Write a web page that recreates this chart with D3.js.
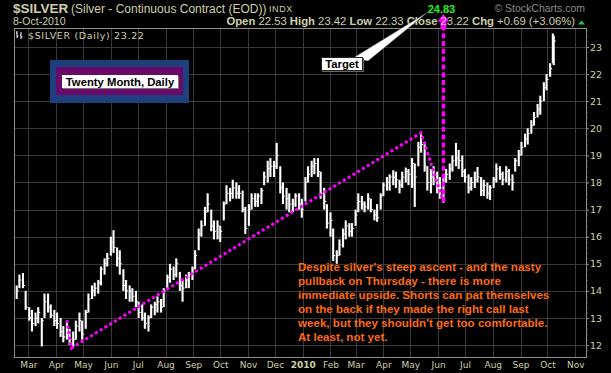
<!DOCTYPE html>
<html>
<head>
<meta charset="utf-8">
<script src="https://cdn.jsdelivr.net/npm/d3@7"></script>
<style>
body { margin: 0; background: #000; }
#chart { width: 611px; height: 373px; }
</style>
</head>
<body>
<div id="chart"></div>
<script>
//Datos (dos barras por semana)
const barDates = ["2009-02-16","2009-02-19","2009-02-23","2009-02-26","2009-03-02","2009-03-05","2009-03-09","2009-03-12","2009-03-16","2009-03-19",
"2009-03-23","2009-03-26","2009-03-30","2009-04-02","2009-04-06","2009-04-09","2009-04-13","2009-04-16","2009-04-20","2009-04-23",
"2009-04-27","2009-04-30","2009-05-04","2009-05-07","2009-05-11","2009-05-14","2009-05-18","2009-05-21","2009-05-25","2009-05-28",
"2009-06-01","2009-06-04","2009-06-08","2009-06-11","2009-06-15","2009-06-18","2009-06-22","2009-06-25","2009-06-29","2009-07-02",
"2009-07-06","2009-07-09","2009-07-13","2009-07-16","2009-07-20","2009-07-23","2009-07-27","2009-07-30","2009-08-03","2009-08-06",
"2009-08-10","2009-08-13","2009-08-17","2009-08-20","2009-08-24","2009-08-27","2009-08-31","2009-09-03","2009-09-07","2009-09-10",
"2009-09-14","2009-09-17","2009-09-21","2009-09-24","2009-09-28","2009-10-01","2009-10-05","2009-10-08","2009-10-12","2009-10-15",
"2009-10-19","2009-10-22","2009-10-26","2009-10-29","2009-11-02","2009-11-05","2009-11-09","2009-11-12","2009-11-16","2009-11-19",
"2009-11-23","2009-11-26","2009-11-30","2009-12-03","2009-12-07","2009-12-10","2009-12-14","2009-12-17","2009-12-21","2009-12-24",
"2009-12-28","2009-12-31","2010-01-04","2010-01-07","2010-01-11","2010-01-14","2010-01-18","2010-01-21","2010-01-25","2010-01-28",
"2010-02-01","2010-02-04","2010-02-08","2010-02-11","2010-02-15","2010-02-18","2010-02-22","2010-02-25","2010-03-01","2010-03-04",
"2010-03-08","2010-03-11","2010-03-15","2010-03-18","2010-03-22","2010-03-25","2010-03-29","2010-04-01","2010-04-05","2010-04-08",
"2010-04-12","2010-04-15","2010-04-19","2010-04-22","2010-04-26","2010-04-29","2010-05-03","2010-05-06","2010-05-10","2010-05-13",
"2010-05-17","2010-05-20","2010-05-24","2010-05-27","2010-05-31","2010-06-03","2010-06-07","2010-06-10","2010-06-14","2010-06-17",
"2010-06-21","2010-06-24","2010-06-28","2010-07-01","2010-07-05","2010-07-08","2010-07-12","2010-07-15","2010-07-19","2010-07-22",
"2010-07-26","2010-07-29","2010-08-02","2010-08-05","2010-08-09","2010-08-12","2010-08-16","2010-08-19","2010-08-23","2010-08-26",
"2010-08-30","2010-09-02","2010-09-06","2010-09-09","2010-09-13","2010-09-16","2010-09-20","2010-09-23","2010-09-27","2010-09-30",
"2010-10-04","2010-10-07","2010-10-08"];

const barHigh = [14.2,14.6,14.66,14.0,13.4,13.3,13.2,13.4,13.0,13.9,
13.9,13.5,13.3,13.2,13.0,12.7,12.9,12.6,12.5,12.9,
13.2,12.9,13.3,13.9,14.2,14.3,14.4,14.9,15.2,15.4,
16.0,16.24,15.6,15.5,14.8,14.4,14.2,14.1,14.0,13.6,
13.5,13.2,13.1,13.5,13.6,13.8,13.7,14.1,14.6,15.0,
14.9,15.2,14.7,14.4,14.6,14.7,14.9,15.5,16.3,16.6,
17.1,17.6,17.0,16.6,16.6,16.4,17.3,17.9,17.8,18.1,
18.0,17.9,17.7,17.1,17.2,17.6,17.6,17.6,17.8,18.4,
18.8,18.9,18.8,19.46,18.6,18.0,17.8,17.6,17.4,17.6,
17.6,17.4,18.2,18.6,18.8,18.9,18.9,18.4,17.8,17.2,
16.9,16.3,15.5,15.9,16.3,16.6,16.5,16.5,17.0,17.6,
17.5,17.3,17.6,17.4,17.0,17.2,17.6,18.0,18.2,18.3,
18.45,18.4,18.1,18.4,18.55,18.5,18.9,18.7,19.5,19.8,
19.5,18.6,18.5,18.6,18.4,18.2,18.3,18.5,18.7,19.0,
19.46,19.2,19.0,18.5,18.3,18.2,18.4,18.57,18.2,18.1,
18.0,17.9,18.2,18.7,18.6,18.4,18.6,18.5,18.3,18.9,
19.2,19.5,19.8,20.0,20.3,20.6,20.9,21.2,21.7,22.0,
22.4,23.5,23.42];

const barLow = [13.7,14.1,14.1,13.3,12.9,12.5,12.7,12.8,11.95,13.0,
13.2,13.0,12.7,12.6,12.3,12.1,12.2,12.0,11.9,12.2,
12.5,12.2,12.6,13.2,13.7,13.8,13.9,14.2,14.6,14.9,
15.3,15.4,14.9,14.6,14.0,13.7,13.6,13.6,13.4,13.0,
12.9,12.6,12.5,13.0,13.1,13.2,13.2,13.4,14.1,14.3,
14.4,14.5,14.0,13.6,14.1,14.1,14.4,14.8,15.5,16.0,
16.4,16.9,16.2,15.9,15.9,15.8,16.6,17.2,17.3,17.4,
17.4,17.4,16.9,16.1,16.4,17.0,17.1,17.1,17.2,17.9,
18.0,18.2,18.2,18.5,17.6,17.2,17.0,16.9,16.9,17.1,
17.0,16.7,17.3,18.0,18.2,18.3,18.2,17.4,17.0,16.3,
16.0,15.1,15.0,15.3,15.6,15.9,16.0,16.0,16.4,16.9,
17.0,16.9,17.0,16.9,16.6,16.55,17.0,17.5,17.7,17.7,
17.9,17.8,17.6,17.8,18.0,17.9,17.8,17.1,18.6,19.1,
18.4,17.7,17.6,17.9,17.6,17.4,17.25,18.0,18.1,18.4,
18.6,18.5,18.2,18.0,17.6,17.7,17.8,18.0,17.5,17.5,
17.4,17.35,17.8,18.0,18.1,17.9,18.0,17.9,17.7,18.4,
18.6,19.0,19.3,19.4,19.8,20.1,20.4,20.5,21.0,21.4,
21.9,22.4,22.33];

const barClose = [14.0,14.4,14.2,13.4,13.0,12.8,13.0,13.2,12.9,13.6,
13.4,13.1,12.9,12.8,12.5,12.3,12.4,12.2,12.2,12.7,
12.9,12.4,13.2,13.7,14.0,14.1,14.3,14.8,15.0,15.2,
15.8,15.6,15.2,15.0,14.2,14.0,14.0,13.8,13.6,13.2,
13.0,12.8,13.0,13.4,13.5,13.6,13.4,14.0,14.5,14.8,
14.6,15.0,14.2,14.1,14.4,14.6,14.8,15.3,16.1,16.4,
16.9,17.2,16.4,16.2,16.4,16.2,17.2,17.6,17.6,17.8,
17.6,17.6,17.0,16.3,17.0,17.4,17.3,17.5,17.7,18.2,
18.5,18.6,18.6,19.0,17.8,17.5,17.4,17.2,17.2,17.5,
17.2,17.0,18.0,18.3,18.6,18.7,18.4,17.6,17.3,16.5,
16.6,15.3,15.3,15.7,16.1,16.4,16.2,16.3,16.8,17.3,
17.2,17.1,17.4,17.0,16.8,16.7,17.5,17.9,18.0,18.2,
18.2,18.1,17.9,18.2,18.4,18.3,18.7,18.2,19.3,19.4,
18.6,18.0,18.2,18.3,17.8,17.8,18.0,18.3,18.5,18.8,
18.9,18.8,18.4,18.2,17.8,18.0,18.1,18.2,17.7,17.9,
17.6,17.8,18.1,18.5,18.3,18.1,18.4,18.1,18.0,18.8,
19.0,19.3,19.6,19.8,20.1,20.4,20.7,21.0,21.5,21.8,
22.2,22.53,23.22];

//Líneas de tendencia (magenta)
const trendDates = ["2009-04-13","2009-04-18","2010-05-13","2010-06-07"];
const trendValues = [12.92, 11.89, 19.83, 17.28];
const targetValue = 24.83;

//Ejes
const yTicks = [12,13,14,15,16,17,18,19,20,21,22,23];
const xDomain = ["2009-02-13","2010-11-13"];
const yDomain = [11.56, 23.70];

const quoteLabels = ["Open","High","Low","Close","Chg"];
const quoteValues = ["22.53","23.42","22.33","23.22","+0.69 (+3.06%)"];

const noteLines = [
    "Despite silver's steep ascent - and the nasty",
    "pullback on Thursday - there is more",
    "immediate upside. Shorts can pat themselves",
    "on the back if they made the right call last",
    "week, but they shouldn't get too comfortable.",
    "At least, not yet."
];

const COLOR_TEXT = '#cfcfa8', COLOR_GRID = '#393939', COLOR_BORDER = '#8e8e86',
      COLOR_MAGENTA = '#ff00ff', COLOR_NOTE = '#ff6a0a';

const parse = d3.utcParse('%Y-%m-%d');
let bars = barDates.map(function(d, i) {
    return {date: parse(d), high: barHigh[i], low: barLow[i], close: barClose[i]};
});

let margin = {top: 28, right: 25, bottom: 16, left: 14},
    width = 611 - margin.left - margin.right,
    height = 373 - margin.top - margin.bottom;

let svg = d3.select('#chart').append('svg')
    .attr('width', 611).attr('height', 373)
    .style('background', '#000')
    .style('display', 'block');

let g = svg.append('g')
    .attr('transform', 'translate(' + margin.left + ',' + margin.top + ')');

let x = d3.scaleUtc()
    .domain(xDomain.map(parse))
    .range([0, width]);

let y = d3.scaleLinear()
    .domain(yDomain)
    .range([height, 0]);

let months = x.ticks(d3.utcMonth.every(1));

//Rejilla
g.append('g').selectAll('line').data(yTicks).join('line')
    .attr('x1', 0).attr('x2', width)
    .attr('y1', d => Math.round(y(d)) + 0.5).attr('y2', d => Math.round(y(d)) + 0.5)
    .attr('stroke', COLOR_GRID);

g.append('g').selectAll('line').data(months).join('line')
    .attr('x1', d => Math.round(x(d)) + 0.5).attr('x2', d => Math.round(x(d)) + 0.5)
    .attr('y1', 0).attr('y2', height)
    .attr('stroke', COLOR_GRID);

//Eje X
let xAxis = g.append('g')
    .attr('transform', 'translate(0,' + height + ')')
    .call(d3.axisBottom(x).tickValues(months).tickSize(0).tickPadding(5)
        .tickFormat(d => d.getUTCMonth() === 0 ? d.getUTCFullYear() : d3.utcFormat('%b')(d)));
xAxis.select('.domain').remove();
xAxis.selectAll('text')
    .attr('fill', COLOR_TEXT)
    .style('font-family', '"DejaVu Sans", sans-serif')
    .style('font-size', '9px')
    .style('font-weight', d => d.getUTCMonth() === 0 ? 'bold' : 'normal');

//Eje Y
let yMinor = g.append('g')
    .attr('transform', 'translate(' + width + ',0)')
    .call(d3.axisRight(y).tickValues(d3.range(11.6, 23.7, 0.2)).tickSize(1.5).tickFormat(''));
yMinor.select('.domain').remove();
yMinor.selectAll('line').attr('stroke', '#77776f');

let yAxis = g.append('g')
    .attr('transform', 'translate(' + width + ',0)')
    .call(d3.axisRight(y).tickValues(yTicks).tickSize(3).tickPadding(1));
yAxis.select('.domain').remove();
yAxis.selectAll('line').attr('stroke', COLOR_BORDER);
yAxis.selectAll('text')
    .attr('fill', COLOR_TEXT)
    .style('font-family', '"DejaVu Sans", sans-serif')
    .style('font-size', '9.5px');

//Marco
g.append('rect')
    .attr('x', 0.5).attr('y', 0.5)
    .attr('width', width).attr('height', height)
    .attr('fill', 'none')
    .attr('stroke', COLOR_BORDER);

//Barras
g.append('g').selectAll('line').data(bars).join('line')
    .attr('x1', d => x(d.date)).attr('x2', d => x(d.date))
    .attr('y1', d => y(d.high)).attr('y2', d => y(d.low))
    .attr('stroke', '#fff').attr('stroke-width', 2.1);

g.append('g').selectAll('line').data(bars).join('line')
    .attr('x1', d => x(d.date)).attr('x2', d => x(d.date) + 2)
    .attr('y1', d => y(d.close)).attr('y2', d => y(d.close))
    .attr('stroke', '#fff').attr('stroke-width', 1);

//Líneas magenta
let trend = trendDates.map((d, i) => [x(parse(d)), y(trendValues[i])]);
g.append('path')
    .attr('d', d3.line()(trend))
    .attr('fill', 'none')
    .attr('stroke', COLOR_MAGENTA)
    .attr('stroke-width', 3)
    .attr('stroke-dasharray', '3,2.6');

//Flecha al objetivo
let tx = x(parse(trendDates[3])), tyTop = -14;
g.append('line')
    .attr('x1', tx).attr('x2', tx)
    .attr('y1', y(trendValues[3])).attr('y2', 0)
    .attr('stroke', COLOR_MAGENTA)
    .attr('stroke-width', 3.4)
    .attr('stroke-dasharray', '5,2.8');

g.append('path')
    .attr('d', 'M' + tx + ',' + tyTop + 'l6,7.5h-3v7.5h-6v-7.5h-3z')
    .attr('fill', COLOR_MAGENTA);

//Cabecera
let head = svg.append('g').style('font-family', '"Liberation Sans", Arial, sans-serif');

head.append('text')
    .attr('x', 13).attr('y', 13)
    .attr('fill', COLOR_TEXT)
    .style('font-size', '13.5px').style('font-weight', 'bold')
    .text('$SILVER');

head.append('text')
    .attr('x', 71).attr('y', 13)
    .attr('fill', COLOR_TEXT)
    .style('font-size', '12px')
    .text('(Silver - Continuous Contract (EOD))');

head.append('text')
    .attr('x', 269).attr('y', 12)
    .attr('fill', COLOR_TEXT)
    .style('font-size', '9px')
    .style('letter-spacing', '0.6px')
    .text('INDX');

head.append('text')
    .attr('x', 13).attr('y', 25)
    .attr('fill', COLOR_TEXT)
    .style('font-size', '10.5px')
    .text('8-Oct-2010');

head.append('text')
    .attr('x', 585).attr('y', 12)
    .attr('text-anchor', 'end')
    .attr('fill', '#8c8c8c')
    .style('font-size', '10.5px')
    .text('\u00A9 StockCharts.com');

let quote = head.append('text')
    .attr('x', 575).attr('y', 25)
    .attr('text-anchor', 'end')
    .attr('fill', COLOR_TEXT)
    .style('font-size', '11.3px');
quoteLabels.forEach(function(l, i) {
    quote.append('tspan').style('font-weight', 'bold').text((i ? ' ' : '') + l);
    quote.append('tspan').text(' ' + quoteValues[i]);
});

head.append('path')
    .attr('d', 'M578,24.5l3.5,-4l3.5,4z')
    .attr('fill', '#22cc44');

//Etiqueta interior
let lab = svg.append('g');
lab.append('path')
    .attr('d', 'M17,31v7M16,33h1M17,36h1.5M21,32v7M20,35h1M21,37h1.5')
    .attr('stroke', '#fff').attr('stroke-width', 1).attr('fill', 'none');
lab.append('text')
    .attr('x', 28).attr('y', 38.5)
    .attr('fill', COLOR_TEXT)
    .style('font-family', '"DejaVu Sans", sans-serif')
    .style('font-size', '9.5px')
    .style('letter-spacing', '0.65px')
    .text('$SILVER (Daily) 23.22');

//Caja "Twenty Month, Daily"
let box = svg.append('g');
box.append('rect').attr('x', 50).attr('y', 60).attr('width', 139).attr('height', 43).attr('fill', '#1d3f7d');
box.append('rect').attr('x', 56).attr('y', 67).attr('width', 127).attr('height', 28).attr('fill', '#690a6b');
box.append('rect').attr('x', 63).attr('y', 76).attr('width', 116).attr('height', 13).attr('fill', '#777');
box.append('rect').attr('x', 62).attr('y', 75).attr('width', 116).attr('height', 13).attr('fill', '#fff');
box.append('text')
    .attr('x', 120).attr('y', 85.5)
    .attr('text-anchor', 'middle')
    .attr('fill', '#000')
    .style('font-family', '"Liberation Sans", Arial, sans-serif')
    .style('font-size', '11.3px').style('font-weight', 'bold')
    .text('Twenty Month, Daily');

//Llamada "Target"
let call = svg.append('g');
call.append('path')
    .attr('d', 'M353,58L368,61L428,12Z')
    .attr('fill', '#fff').attr('stroke', '#444').attr('stroke-width', 0.5);
call.append('rect').attr('x', 322).attr('y', 58).attr('width', 42).attr('height', 14).attr('fill', '#666');
call.append('rect').attr('x', 321.5).attr('y', 57.5).attr('width', 41).attr('height', 13)
    .attr('fill', '#fff').attr('stroke', '#222');
call.append('text')
    .attr('x', 342).attr('y', 68)
    .attr('text-anchor', 'middle')
    .attr('fill', '#000')
    .style('font-family', '"Liberation Sans", Arial, sans-serif')
    .style('font-size', '11.3px').style('font-weight', 'bold')
    .text('Target');

call.append('text')
    .attr('x', margin.left + tx - 2).attr('y', 12.5)
    .attr('text-anchor', 'middle')
    .attr('fill', '#22ee22')
    .style('font-family', '"Liberation Sans", Arial, sans-serif')
    .style('font-size', '11px').style('font-weight', 'bold')
    .text(targetValue.toFixed(2));

//Comentario
svg.append('g').selectAll('text').data(noteLines).join('text')
    .attr('x', 298)
    .attr('y', (d, i) => 271 + i * 13.9)
    .attr('fill', COLOR_NOTE)
    .style('font-family', '"Liberation Sans", Arial, sans-serif')
    .style('font-size', '11.6px').style('font-weight', 'bold')
    .text(d => d);
</script>
</body>
</html>
